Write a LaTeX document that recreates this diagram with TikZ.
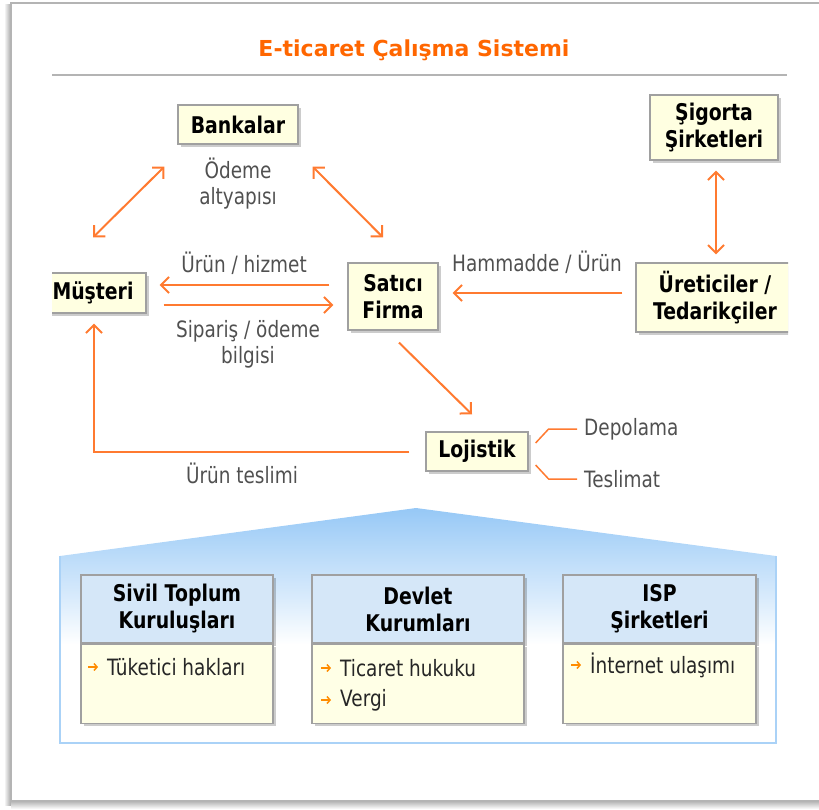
\documentclass[tikz,border=0pt]{standalone}
\usepackage{fontspec}
\setmainfont{DejaVu Sans}[FakeStretch=0.82]
\newfontfamily\ttlfamily{DejaVu Sans}
\usetikzlibrary{arrows.meta,calc,shadows}

\definecolor{linkorange}{RGB}{255,122,48}
\definecolor{titleorange}{RGB}{255,102,0}
\definecolor{boxfill}{RGB}{255,255,225}
\definecolor{boxline}{RGB}{160,160,160}
\definecolor{labelgray}{RGB}{80,80,80}
\definecolor{headblue}{RGB}{213,231,248}
\definecolor{bodycream}{RGB}{255,255,230}
\definecolor{roofblue}{RGB}{150,200,246}
\definecolor{wallline}{RGB}{170,210,247}
\definecolor{bulletorange}{RGB}{255,140,0}
\definecolor{framegray}{RGB}{180,180,180}

% roof fades from blue at the ridge to white near the middle of the walls
\pgfdeclareverticalshading{housefade}{100bp}{%
  color(0bp)=(white); color(25bp)=(white); color(46bp)=(white);
  color(55.5bp)=(roofblue!35); color(65bp)=(roofblue!65);
  color(75bp)=(roofblue); color(100bp)=(roofblue)}

\newcommand\entfont{\bfseries\fontsize{23}{27}\selectfont}
\newcommand\lblfont{\fontsize{22.5}{26}\selectfont}
\newcommand\ttlfont{\ttlfamily\bfseries\fontsize{22}{26}\selectfont}

\tikzset{
  boxshadow/.style={drop shadow={shadow xshift=3pt,shadow yshift=-3pt,fill=black,opacity=.2}},
  entity/.style={draw=boxline,line width=1.2pt,fill=boxfill,font=\entfont,
    align=center,inner sep=0pt,boxshadow},
  lbl/.style={font=\lblfont,text=labelgray,align=center,inner sep=0pt},
  item/.style={font=\lblfont,text=black!85,inner sep=0pt,anchor=west},
  headbox/.style={draw=boxline,line width=1.2pt,fill=headblue,font=\entfont,
    align=center,inner sep=0pt,boxshadow},
  bodybox/.style={draw=boxline,line width=1.2pt,fill=bodycream,inner sep=0pt,boxshadow},
  link/.style={draw=linkorange,line width=2pt,
    arrows={-Straight Barb[length=8pt,width=16pt]}},
  twoway/.style={draw=linkorange,line width=2pt,
    arrows={Straight Barb[length=8pt,width=16pt]-Straight Barb[length=8pt,width=16pt]}},
  branch/.style={draw=linkorange,line width=1.5pt},
  bullet/.style={draw=bulletorange,line width=1.5pt,
    arrows={-Straight Barb[length=3pt,width=7pt]}},
}

\begin{document}
\begin{tikzpicture}[x=1pt,y=-1pt]
\useasboundingbox (0,0) rectangle (819,809);

% panel with its shadow
\shade[left color=white,right color=black!35] (4,4) rectangle (11,805);
\shade[top color=black!30,bottom color=white] (11,801) rectangle (819,809);
\draw[framegray,line width=1.5pt] (819,3) -- (11,3) -- (11,801) -- (819,801);

% heading
\node[font=\ttlfont,text=titleorange] (title) at (414,50) {E-ticaret Çalışma Sistemi};
\draw[framegray,line width=2pt] (52,75) -- (787,75);

% actors
\node[entity,minimum width=120,minimum height=39] (bank) at (238,124.5) {Bankalar};
\node[entity,minimum width=90,minimum height=67] (sat) at (393,296.5) {Satıcı\\Firma};
\node[entity,minimum width=128,minimum height=65] (sig) at (714,127.5) {Şigorta\\Şirketleri};
\node[entity,minimum width=102,minimum height=39] (loj) at (477,451.5) {Lojistik};
\begin{scope}
  \clip (52,0) rectangle (788,809);
  \node[entity,minimum width=106,minimum height=40] (must) at (93,293) {Müşteri};
  \node[entity,minimum width=158,minimum height=69] (ure) at (715,297.5) {Üreticiler /\\Tedarikçiler};
\end{scope}

% flow labels
\node[lbl] (pay) at (238,183.5) {Ödeme\\altyapısı};
\node[lbl] (goods) at (244,263) {Ürün / hizmet};
\node[lbl] (order) at (248,344.5) {Sipariş / ödeme\\bilgisi};
\node[lbl] (raw) at (537,262) {Hammadde / Ürün};
\node[lbl] (deliv) at (242,473) {Ürün teslimi};
\node[lbl,anchor=west] (depo) at (584,429) {Depolama};
\node[lbl,anchor=west] (tesl) at (584,479) {Teslimat};

% connector ends
\coordinate (mb-a) at ($(must.north)+(0,-35)$);
\coordinate (mb-b) at ($(bank.south west)+(-13,22)$);
\coordinate (bs-a) at ($(bank.south east)+(14,22)$);
\coordinate (bs-b) at ($(sat.north)+(-10,-25)$);
\coordinate (sm-a) at ($(sat.west)+(-18,-11.5)$);
\coordinate (sm-b) at ($(must.east)+(13,-8)$);
\coordinate (ms-a) at ($(must.east)+(17,12)$);
\coordinate (ms-b) at ($(sat.west)+(-14,8.5)$);
\coordinate (us-a) at ($(ure.west)+(-13,-4.5)$);
\coordinate (us-b) at ($(sat.east)+(14,-3.5)$);
\coordinate (su-a) at ($(sig.south)+(2,10)$);
\coordinate (su-b) at ($(ure.north)+(1,-8)$);
\coordinate (sl-a) at ($(sat.south)+(6,12)$);
\coordinate (sl-b) at ($(loj.north)+(-5,-17)$);
\coordinate (lm-a) at ($(loj.west)+(-16,0)$);
\coordinate (lm-b) at ($(must.south)+(1,10)$);

% connectors
\draw[twoway] (mb-a) -- (mb-b);
\draw[twoway] (bs-a) -- (bs-b);
\draw[link] (sm-a) -- (sm-b);
\draw[link] (ms-a) -- (ms-b);
\draw[link] (us-a) -- (us-b);
\draw[twoway] (su-a) -- (su-b);
\draw[link] (sl-a) -- (sl-b);
\draw[link] (lm-a) -| (lm-b);
\draw[branch] ($(loj.east)+(7,-8.5)$) -- ($(loj.east)+(20,-22.5)$) -- ($(depo.west)+(-7,0)$);
\draw[branch] ($(loj.east)+(7,13.5)$) -- ($(loj.east)+(20,27.5)$) -- ($(tesl.west)+(-7,0)$);

% supporting institutions under one roof
\shade[shading=housefade] (60,743) -- (60,556) -- (416,508) -- (776,556) -- (776,743) -- cycle;
\draw[wallline,line width=1.5pt] (60,556) -- (60,743) -- (776,743) -- (776,556);

\node[headbox,minimum width=192,minimum height=68] (civ-h) at (177,609) {Sivil Toplum\\Kuruluşları};
\node[bodybox,minimum width=192,minimum height=79,anchor=north] (civ-b) at (civ-h.south) {};
\node[headbox,minimum width=212,minimum height=68] (dev-h) at (418,609) {Devlet\\Kurumları};
\node[bodybox,minimum width=212,minimum height=79,anchor=north] (dev-b) at (dev-h.south) {};
\node[headbox,minimum width=193,minimum height=68] (isp-h) at (659.5,609) {ISP\\Şirketleri};
\node[bodybox,minimum width=193,minimum height=79,anchor=north] (isp-b) at (isp-h.south) {};

\node[item] (civ-i1) at (107,667) {Tüketici hakları};
\node[item] (dev-i1) at (340,668) {Ticaret hukuku};
\node[item] (dev-i2) at (340,700) {Vergi};
\node[item] (isp-i1) at (590,665) {İnternet ulaşımı};
\foreach \it in {civ-i1,dev-i1,dev-i2,isp-i1}
  \draw[bullet] ($(\it.west)+(-19,0)$) -- ++(10,0);
\end{tikzpicture}
\end{document}
